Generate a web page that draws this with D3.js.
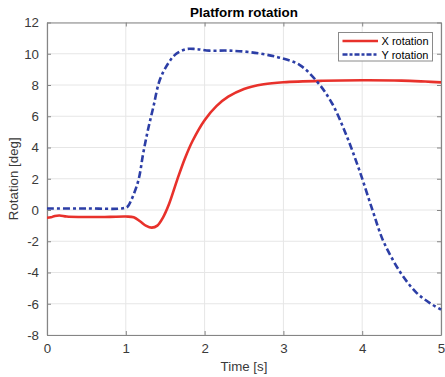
<!DOCTYPE html>
<html>
<head>
<meta charset="utf-8">
<script src="https://cdn.jsdelivr.net/npm/d3@7"></script>
<style>
  body { margin: 0; background: #fff; }
  svg { display: block; font-family: "Liberation Sans", Arial, sans-serif; }
</style>
</head>
<body>
<div id="chart"></div>
<script>
// time samples [s] and rotations [deg]
var xTime = [0, 0.05, 0.1, 0.16, 0.25, 0.42, 0.6, 0.8, 1.0, 1.1, 1.18, 1.26, 1.33, 1.4, 1.47, 1.55, 1.65, 1.75, 1.85, 2.0, 2.15, 2.3, 2.5, 2.75, 3.0, 3.5, 4.0, 4.5, 4.8, 5.0];
var xRot  = [-0.5, -0.47, -0.38, -0.35, -0.42, -0.45, -0.45, -0.44, -0.42, -0.46, -0.72, -1.02, -1.13, -1.0, -0.5, 0.4, 1.9, 3.3, 4.45, 5.75, 6.65, 7.25, 7.75, 8.05, 8.18, 8.27, 8.3, 8.28, 8.22, 8.17];

var yTime = [0, 0.5, 0.95, 1.02, 1.07, 1.16, 1.22, 1.28, 1.35, 1.43, 1.54, 1.64, 1.77, 1.89, 2.06, 2.3, 2.58, 2.91, 3.2, 3.43, 3.62, 3.79, 3.96, 4.13, 4.26, 4.39, 4.52, 4.69, 4.86, 5.0];
var yRot  = [0.1, 0.1, 0.1, 0.2, 0.64, 1.9, 3.6, 5.1, 6.6, 8.3, 9.4, 10.0, 10.3, 10.3, 10.2, 10.2, 10.1, 9.8, 9.3, 8.2, 6.8, 4.9, 2.6, 0, -1.9, -3.2, -4.26, -5.3, -5.96, -6.38];

var xTicks = [0, 1, 2, 3, 4, 5];
var yTicks = [-8, -6, -4, -2, 0, 2, 4, 6, 8, 10, 12];

var seriesNames = ["X rotation", "Y rotation"];
var colors = ["#e8312b", "#2c3ea6"];

var W = 445, H = 377;
var pLeft = 47, pRight = 441, pTop = 22.5, pBottom = 335;

var svg = d3.select("#chart").append("svg")
    .attr("width", W).attr("height", H);

var x = d3.scaleLinear().domain([0, 5]).range([pLeft, pRight]);
var y = d3.scaleLinear().domain([-8, 12]).range([pBottom, pTop]);

// grid
svg.append("g").selectAll("line")
  .data(xTicks).enter().append("line")
  .attr("x1", d => x(d)).attr("x2", d => x(d))
  .attr("y1", pTop).attr("y2", pBottom)
  .attr("stroke", "#e6e6e6").attr("stroke-width", 1);
svg.append("g").selectAll("line")
  .data(yTicks).enter().append("line")
  .attr("y1", d => y(d)).attr("y2", d => y(d))
  .attr("x1", pLeft).attr("x2", pRight)
  .attr("stroke", "#e6e6e6").attr("stroke-width", 1);

// axes (ticks pointing inward, box on all four sides)
var axisCol = "#858585", textCol = "#3a3a3a";
function styleAxis(g) {
  g.select(".domain").attr("stroke", axisCol).attr("stroke-width", 1.2);
  g.selectAll(".tick line").attr("stroke", axisCol);
  g.selectAll(".tick text").attr("fill", textCol).attr("font-size", "13.3px")
    .attr("font-family", "Liberation Sans, Arial, sans-serif");
}
svg.append("g").attr("transform", "translate(0," + pBottom + ")")
  .call(d3.axisBottom(x).tickValues(xTicks).tickSize(-4).tickSizeOuter(0).tickPadding(9)
        .tickFormat(d3.format("d")))
  .call(styleAxis);
svg.append("g").attr("transform", "translate(0," + pTop + ")")
  .call(d3.axisTop(x).tickValues(xTicks).tickSize(-4).tickSizeOuter(0).tickFormat(""))
  .call(styleAxis);
svg.append("g").attr("transform", "translate(" + pLeft + ",0)")
  .call(d3.axisLeft(y).tickValues(yTicks).tickSize(-4).tickSizeOuter(0).tickPadding(8)
        .tickFormat(d => d < 0 ? "-" + Math.abs(d) : d))
  .call(styleAxis);
svg.append("g").attr("transform", "translate(" + pRight + ",0)")
  .call(d3.axisRight(y).tickValues(yTicks).tickSize(-4).tickSizeOuter(0).tickFormat(""))
  .call(styleAxis);

// curves
var line = d3.line().curve(d3.curveCatmullRom.alpha(0.5))
  .x(d => x(d[0])).y(d => y(d[1]));
svg.append("path")
  .datum(d3.zip(xTime, xRot))
  .attr("d", line)
  .attr("fill", "none").attr("stroke", colors[0]).attr("stroke-width", 2.6);
svg.append("path")
  .datum(d3.zip(yTime, yRot))
  .attr("d", line)
  .attr("fill", "none").attr("stroke", colors[1]).attr("stroke-width", 2.6)
  .attr("stroke-dasharray", "7,3,3,3");

// title and labels
svg.append("text").attr("x", (pLeft + pRight) / 2).attr("y", 17)
  .attr("text-anchor", "middle").attr("font-size", "13.4px").attr("font-weight", "bold")
  .attr("fill", "#000").text("Platform rotation");
svg.append("text").attr("x", (pLeft + pRight) / 2).attr("y", 371)
  .attr("text-anchor", "middle").attr("font-size", "13.3px").attr("fill", textCol)
  .text("Time [s]");
svg.append("text").attr("transform", "translate(18," + (pTop + pBottom) / 2 + ") rotate(-90)")
  .attr("text-anchor", "middle").attr("font-size", "13.3px").attr("fill", textCol)
  .text("Rotation [deg]");

// legend
var lg = svg.append("g");
lg.append("rect").attr("x", 338.5).attr("y", 32.5).attr("width", 94).attr("height", 28.5)
  .attr("fill", "#fff").attr("stroke", "#8a8a8a").attr("stroke-width", 1);
seriesNames.forEach(function(name, i) {
  var yy = 41 + i * 13.5;
  lg.append("line").attr("x1", 342.5).attr("x2", 378).attr("y1", yy).attr("y2", yy)
    .attr("stroke", colors[i]).attr("stroke-width", 2.6)
    .attr("stroke-dasharray", i === 1 ? "5,2,3,2" : null);
  lg.append("text").attr("x", 381.5).attr("y", yy + 4)
    .attr("font-size", "11px").attr("fill", "#000").text(name);
});
</script>
</body>
</html>
